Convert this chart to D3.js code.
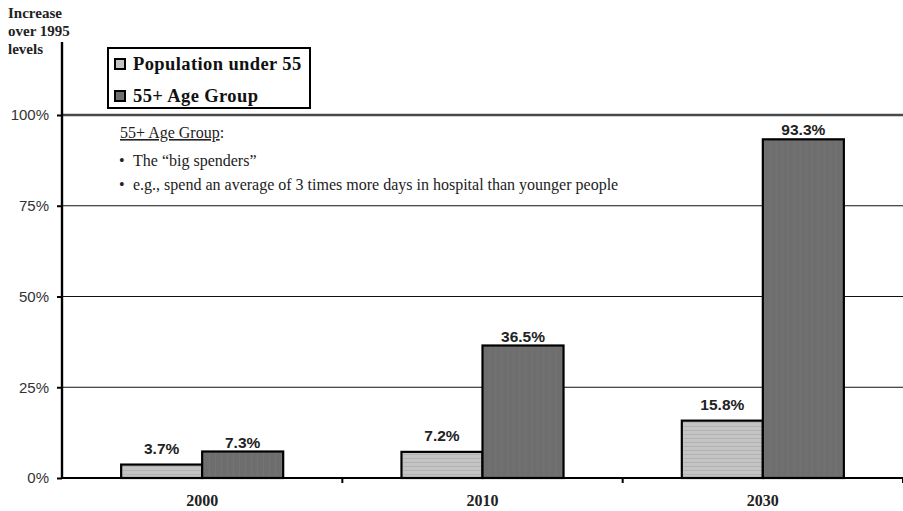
<!DOCTYPE html>
<html>
<head>
<meta charset="utf-8">
<script src="https://cdn.jsdelivr.net/npm/d3@7"></script>
<style>
  html, body { margin: 0; padding: 0; background: #fff; }
  svg { display: block; }
</style>
</head>
<body>
<svg id="chart" width="903" height="511"></svg>
<script>
// Growth in population versus 1995, by age group
const categories = ["2000", "2010", "2030"];
const seriesNames = ["Population under 55", "55+ Age Group"];
const under55 = [3.7, 7.2, 15.8];
const over55 = [7.3, 36.5, 93.3];
const yTicks = [0, 25, 50, 75, 100];
const yTitle = ["Increase", "over 1995", "levels"];
const noteTitle = "55+ Age Group";
const noteLines = ["The \u201cbig spenders\u201d",
  "e.g., spend an average of 3 times more days in hospital than younger people"];

const svg = d3.select("#chart");
const plotLeft = 62, plotRight = 903, plotTop = 115, plotBottom = 478;

const fills = ["#c4c4c4", "#6e6e6e"];
const serif = "'Liberation Serif', 'Times New Roman', serif";
const sans = "'Liberation Sans', Arial, sans-serif";

// texture for the bars
const defs = svg.append("defs");
const pat = defs.append("pattern").attr("id", "lightTex")
  .attr("width", 4).attr("height", 4).attr("patternUnits", "userSpaceOnUse");
pat.append("rect").attr("width", 4).attr("height", 4).attr("fill", fills[0]);
pat.append("rect").attr("x", 0).attr("y", 2).attr("width", 4).attr("height", 1).attr("fill", "#b2b2b2");
const patD = defs.append("pattern").attr("id", "darkTex")
  .attr("width", 6).attr("height", 6).attr("patternUnits", "userSpaceOnUse");
patD.append("rect").attr("width", 6).attr("height", 6).attr("fill", fills[1]);
patD.append("rect").attr("x", 3).attr("y", 0).attr("width", 1).attr("height", 6).attr("fill", "#747474");
const barFills = ["url(#lightTex)", "url(#darkTex)"];

const x = d3.scaleBand().domain(categories).range([plotLeft, plotRight]).padding(0);
const x1 = d3.scaleBand().domain([0, 1]).range([0, x.bandwidth()]).paddingInner(0).paddingOuter(0.73);
const y = d3.scaleLinear().domain([0, 100]).range([plotBottom, plotTop]);

// horizontal gridlines
svg.append("g").selectAll("line").data(yTicks.filter(d => d > 0)).join("line")
  .attr("x1", plotLeft).attr("x2", plotRight)
  .attr("y1", d => y(d)).attr("y2", d => y(d))
  .attr("stroke", d => d === 100 ? "#4a4a4a" : "#111")
  .attr("stroke-width", d => d === 100 ? 2.6 : 1.2);

// annotation
const note = svg.append("g").attr("font-family", serif).attr("fill", "#222").attr("font-size", 16);
const nt = note.append("text").attr("x", 120).attr("y", 138);
nt.append("tspan").attr("text-decoration", "underline").text(noteTitle);
nt.append("tspan").text(":");
noteLines.forEach((s, i) => {
  const yy = [166, 190][i];
  note.append("text").attr("x", 119).attr("y", yy).text("\u2022");
  note.append("text").attr("x", 133).attr("y", yy).text(s);
});

// bars
const rows = categories.map((c, i) => ({ c, v: [under55[i], over55[i]] }));
const groups = svg.append("g").selectAll("g").data(rows).join("g")
  .attr("transform", d => `translate(${x(d.c)},0)`);
groups.selectAll("rect").data(d => d.v.map((v, k) => ({ v, k }))).join("rect")
  .attr("x", d => x1(d.k)).attr("width", x1.bandwidth())
  .attr("y", d => y(d.v)).attr("height", d => y(0) - y(d.v))
  .attr("fill", d => barFills[d.k])
  .attr("stroke", "#000").attr("stroke-width", 2.2);
// value labels
const labelGap = [11, 4];
groups.selectAll("text").data(d => d.v.map((v, k) => ({ v, k }))).join("text")
  .attr("x", d => x1(d.k) + x1.bandwidth() / 2)
  .attr("y", d => y(d.v) - labelGap[d.k])
  .attr("text-anchor", "middle")
  .attr("font-family", sans).attr("font-weight", "bold").attr("font-size", 15.5)
  .attr("fill", "#222")
  .text(d => d.v.toFixed(1) + "%");

// y axis
const yAxis = svg.append("g").attr("transform", `translate(${plotLeft},0)`)
  .call(d3.axisLeft(y).tickValues(yTicks).tickFormat(d => d + "%").tickSize(5).tickPadding(8));
yAxis.select(".domain").remove();
yAxis.selectAll(".tick line").attr("stroke", "#000").attr("stroke-width", 2);
yAxis.selectAll(".tick text").attr("font-family", sans).attr("font-size", 15).attr("fill", "#333");
svg.append("line").attr("x1", plotLeft).attr("x2", plotLeft).attr("y1", 42).attr("y2", plotBottom + 1)
  .attr("stroke", "#000").attr("stroke-width", 2.4);

// x axis
const xAxis = svg.append("g").attr("transform", `translate(0,${plotBottom})`)
  .call(d3.axisBottom(x).tickSize(0).tickPadding(17));
xAxis.select(".domain").remove();
xAxis.selectAll(".tick text").attr("font-family", serif).attr("font-weight", "bold")
  .attr("font-size", 16).attr("fill", "#222");
svg.append("line").attr("x1", plotLeft).attr("x2", plotRight).attr("y1", plotBottom).attr("y2", plotBottom)
  .attr("stroke", "#000").attr("stroke-width", 2);
svg.append("g").selectAll("line").data(categories).join("line")
  .attr("x1", d => x(d) + x.bandwidth()).attr("x2", d => x(d) + x.bandwidth())
  .attr("y1", plotBottom).attr("y2", plotBottom + 5)
  .attr("stroke", "#000").attr("stroke-width", 2);

// y axis title
svg.append("g").selectAll("text").data(yTitle).join("text")
  .attr("x", 8).attr("y", (d, i) => 18 + i * 18)
  .attr("font-family", serif).attr("font-weight", "bold").attr("font-size", 15)
  .attr("fill", "#222").text(d => d);

// legend
const lg = svg.append("g");
lg.append("rect").attr("x", 108).attr("y", 48).attr("width", 202).attr("height", 60)
  .attr("fill", "#fff").attr("stroke", "#000").attr("stroke-width", 2);
seriesNames.forEach((s, i) => {
  const yy = [70, 102][i];
  lg.append("rect").attr("x", 115).attr("y", yy - 11).attr("width", 10).attr("height", 10)
    .attr("fill", fills[i]).attr("stroke", "#000").attr("stroke-width", 2);
  lg.append("text").attr("x", 133).attr("y", yy).attr("font-family", serif)
    .attr("font-weight", "bold").attr("font-size", 18.5).attr("letter-spacing", 0.4)
    .attr("fill", "#111").text(s);
});
</script>
</body>
</html>
